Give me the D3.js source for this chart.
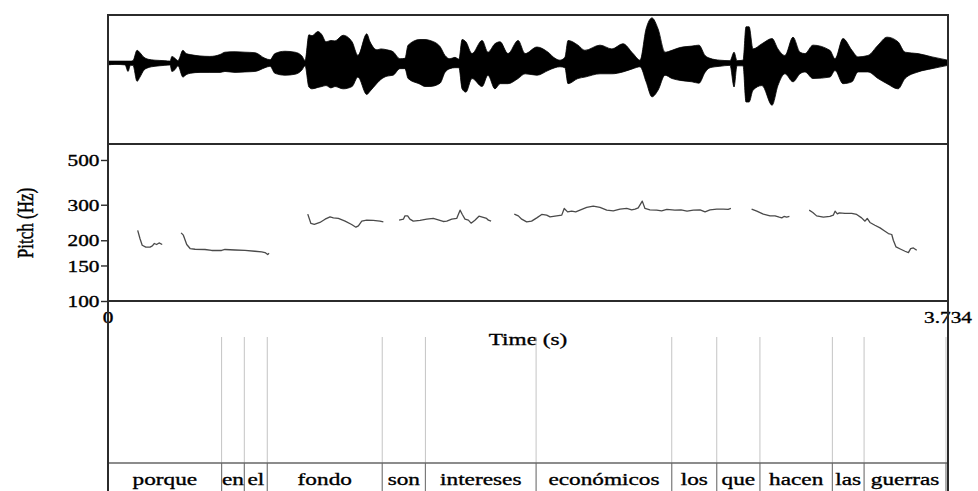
<!DOCTYPE html>
<html>
<head>
<meta charset="utf-8">
<script src="https://cdn.jsdelivr.net/npm/d3@7"></script>
<style>
  body { margin: 0; background: #fff; }
  svg { display: block; }
  text { font-family: "Liberation Serif", "Times New Roman", serif; fill: #000; stroke: #000; stroke-width: 0.35px; }
</style>
</head>
<body>
<svg id="chart" width="978" height="491"></svg>
<script>
// ---- Data -------------------------------------------------------------
const totalDuration = 3.734;            // seconds

// Word tier: interval boundaries (s) and the word in each interval
const wordBoundaries = [0, 0.505, 0.606, 0.708, 1.219, 1.411, 1.903, 2.506, 2.706, 2.898, 3.220, 3.361, 3.725];
const words = ["porque", "en", "el", "fondo", "son", "intereses", "económicos", "los", "que", "hacen", "las", "guerras"];

// Pitch axis
const pitchTicks = [100, 150, 200, 300, 500];
const pitchRange = [100, 600];          // Hz, log scale
const timeLabels = [0, 3.734];

// Waveform amplitude envelope: [time (s), upper, lower]
const waveEnvelope = [
  [0.000,0.04,-0.04],[0.031,0.04,-0.03],[0.076,0.04,-0.04],[0.089,0.04,-0.18],[0.100,0.04,-0.05],
  [0.111,0.05,-0.05],[0.129,0.27,-0.39],[0.142,0.22,-0.30],[0.160,0.12,-0.15],[0.178,0.08,-0.10],
  [0.209,0.06,-0.07],[0.253,0.05,-0.05],[0.276,0.04,-0.04],[0.284,0.14,-0.18],[0.298,0.10,-0.14],
  [0.311,0.05,-0.06],[0.333,0.27,-0.30],[0.347,0.20,-0.25],[0.365,0.18,-0.22],[0.409,0.15,-0.20],
  [0.453,0.14,-0.20],[0.498,0.18,-0.20],[0.520,0.23,-0.18],[0.565,0.24,-0.20],[0.609,0.23,-0.19],
  [0.653,0.22,-0.18],[0.698,0.10,-0.10],[0.720,0.07,-0.07],[0.742,0.20,-0.22],[0.787,0.25,-0.26],
  [0.831,0.23,-0.24],[0.862,0.15,-0.15],[0.876,0.05,-0.06],[0.893,0.60,-0.51],[0.907,0.58,-0.55],
  [0.933,0.67,-0.52],[0.951,0.60,-0.50],[0.969,0.45,-0.48],[0.991,0.48,-0.53],[1.009,0.47,-0.50],
  [1.045,0.59,-0.55],[1.085,0.45,-0.50],[1.111,0.16,-0.30],[1.150,0.62,-0.67],[1.165,0.45,-0.60],
  [1.196,0.28,-0.43],[1.213,0.30,-0.35],[1.240,0.28,-0.28],[1.267,0.24,-0.26],[1.298,0.09,-0.12],
  [1.320,0.10,-0.12],[1.334,0.38,-0.33],[1.387,0.50,-0.45],[1.409,0.50,-0.50],[1.431,0.48,-0.50],
  [1.476,0.35,-0.43],[1.498,0.16,-0.20],[1.520,0.09,-0.12],[1.542,0.12,-0.10],[1.560,0.08,-0.10],
  [1.574,0.50,-0.55],[1.591,0.45,-0.62],[1.618,0.20,-0.33],[1.663,0.48,-0.50],[1.689,0.23,-0.26],
  [1.720,0.41,-0.55],[1.743,0.45,-0.44],[1.778,0.20,-0.44],[1.823,0.48,-0.33],[1.854,0.20,-0.23],
  [1.907,0.34,-0.26],[1.956,0.23,-0.16],[1.987,0.10,-0.10],[2.009,0.06,-0.08],[2.031,0.12,-0.10],
  [2.045,0.48,-0.44],[2.089,0.38,-0.33],[2.120,0.27,-0.30],[2.187,0.38,-0.23],[2.240,0.30,-0.23],
  [2.289,0.41,-0.19],[2.334,0.20,-0.12],[2.365,0.06,-0.08],[2.392,0.73,-0.40],[2.418,0.96,-0.72],
  [2.445,0.73,-0.58],[2.476,0.23,-0.26],[2.507,0.27,-0.33],[2.543,0.33,-0.37],[2.596,0.36,-0.40],
  [2.627,0.38,-0.43],[2.654,0.16,-0.20],[2.676,0.10,-0.10],[2.720,0.06,-0.07],[2.765,0.05,-0.05],
  [2.783,0.23,-0.51],[2.796,0.05,-0.06],[2.823,0.06,-0.06],[2.836,0.77,-0.83],[2.850,0.77,-0.83],
  [2.867,0.30,-0.58],[2.907,0.41,-0.48],[2.952,0.52,-0.90],[2.978,0.30,-0.48],[3.009,0.16,-0.23],
  [3.045,0.55,-0.40],[3.076,0.23,-0.23],[3.098,0.20,-0.19],[3.134,0.38,-0.33],[3.209,0.27,-0.30],
  [3.232,0.09,-0.16],[3.267,0.52,-0.44],[3.307,0.27,-0.40],[3.334,0.13,-0.19],[3.378,0.16,-0.19],
  [3.423,0.38,-0.33],[3.463,0.55,-0.44],[3.512,0.45,-0.55],[3.543,0.23,-0.33],[3.601,0.20,-0.19],
  [3.663,0.13,-0.12],[3.734,0.06,-0.05]
];

// Pitch contour, voiced stretches: [time (s), F0 (Hz)]
const pitchSeg1 = [[0.132,224],[0.142,204],[0.152,189],[0.168,185],[0.187,185],[0.197,187.5],[0.206,192.7],[0.216,190.5],[0.227,194],[0.241,190.5]];
const pitchSeg2 = [[0.325,217.5],[0.335,212],[0.350,190.5],[0.365,182],[0.387,180.5],[0.431,180],[0.461,178],[0.505,178],[0.520,180],[0.565,179],[0.609,178],[0.653,176.4],[0.683,175],[0.698,173.8],[0.710,170],[0.716,172.4]];
const pitchSeg3 = [[0.888,269.4],[0.902,242.2],[0.917,239.5],[0.942,245],[0.965,254.4],[0.987,261.2],[1.002,258.3],[1.024,256.5],[1.054,248.7],[1.083,239.5],[1.102,232.2],[1.113,235.7],[1.128,248.7],[1.150,251.5],[1.179,250.7],[1.209,248.7],[1.224,246.7]];
const pitchSeg4 = [[1.294,251.5],[1.313,254.4],[1.320,264.2],[1.332,264.2],[1.342,254.4],[1.357,248.7],[1.387,250.7],[1.417,254.4],[1.446,256.5],[1.468,252.4],[1.490,247.8],[1.506,248.7],[1.528,254.4],[1.550,256.5],[1.565,282],[1.575,268.5],[1.587,254.4],[1.602,251.5],[1.614,243.1],[1.631,251.5],[1.649,263.3],[1.668,259.5],[1.683,256.5],[1.691,251.5],[1.703,248.7]];
const pitchSeg5 = [[1.806,269.4],[1.824,264.2],[1.839,254.4],[1.861,246.7],[1.883,248.7],[1.906,258.3],[1.928,268.5],[1.950,266.4],[1.965,261.2],[1.987,263.3],[2.017,266.4],[2.028,287.6],[2.043,276.6],[2.061,278.8],[2.079,276.6],[2.098,282],[2.128,290.9],[2.157,295.3],[2.187,290.9],[2.217,282],[2.246,279.8],[2.276,285.3],[2.306,287.6],[2.328,283],[2.343,285.3],[2.357,289.6],[2.375,312.6],[2.387,287.6],[2.409,283],[2.439,282],[2.461,279.8],[2.484,284.3],[2.520,282],[2.547,283],[2.574,278.8],[2.602,282],[2.632,283],[2.654,276.6],[2.676,283],[2.706,285.3],[2.735,285.3],[2.757,284.3],[2.769,287.6]];
const pitchSeg6 = [[2.861,285.3],[2.884,278.8],[2.913,269.4],[2.943,264.2],[2.965,264.2],[2.984,260.3],[2.995,258.3],[3.005,262.4],[3.017,260.3],[3.029,262.4]];
const pitchSeg7 = [[3.117,282],[3.133,274.7],[3.150,264.2],[3.180,260.3],[3.209,262.4],[3.224,266.4],[3.232,278.8],[3.242,270.4],[3.251,273.5],[3.276,271.6],[3.306,271.6],[3.328,268.5],[3.350,258.3],[3.365,248.7],[3.375,256.5],[3.387,245],[3.409,237.5],[3.432,230.3],[3.454,221.8],[3.469,216],[3.484,213.6],[3.491,200.1],[3.503,185.3],[3.524,180.5],[3.543,176.4],[3.558,173.8],[3.568,181.9],[3.580,183.2],[3.595,178.4]];
const pitchSegments = [pitchSeg1, pitchSeg2, pitchSeg3, pitchSeg4, pitchSeg5, pitchSeg6, pitchSeg7];

// ---- Layout -----------------------------------------------------------
const W = 978, H = 491;
const left = 108, right = 948;
const waveTop = 15, waveBottom = 144;
const pitchTop = 144, pitchBottom = 301;
const boundaryTop = 337, tierTop = 463;
const SX = 1.33;          // horizontal glyph stretch used for every label
const frameColor = "#2b2b2b";

const svg = d3.select("#chart");
svg.append("rect").attr("width", W).attr("height", H).attr("fill", "#fff");

// ---- Scales -----------------------------------------------------------
const x = d3.scaleLinear().domain([0, totalDuration]).range([left, right]);
const yPitch = d3.scaleLog().domain(pitchRange).range([pitchBottom, pitchTop]);
const yWave = d3.scaleLinear().domain([-1, 1]).range([110, 16]);

// ---- Waveform ---------------------------------------------------------
svg.append("line")
  .attr("x1", x(0)).attr("x2", x(totalDuration))
  .attr("y1", yWave(0)).attr("y2", yWave(0))
  .attr("stroke", "#000").attr("stroke-width", 1.2);

svg.append("path")
  .datum(waveEnvelope)
  .attr("fill", "#000")
  .attr("stroke", "#000")
  .attr("stroke-width", 0.8)
  .attr("d", d3.area()
    .curve(d3.curveMonotoneX)
    .x(d => x(d[0]))
    .y0(d => yWave(d[2]))
    .y1(d => yWave(d[1])));

// ---- Pitch contour ----------------------------------------------------
const pitchLine = d3.line().x(d => x(d[0])).y(d => yPitch(d[1]));
svg.append("g").selectAll("path")
  .data(pitchSegments)
  .join("path")
  .attr("fill", "none")
  .attr("stroke", "#4a4a4a")
  .attr("stroke-width", 1.3)
  .attr("stroke-linejoin", "round")
  .attr("d", pitchLine);

// ---- Pitch axis -------------------------------------------------------
const yAxis = svg.append("g")
  .attr("transform", `translate(${left},0)`)
  .call(d3.axisLeft(yPitch).tickValues(pitchTicks).tickFormat(d3.format("d"))
    .tickSize(7).tickSizeOuter(0));
yAxis.select(".domain").remove();
yAxis.selectAll(".tick line").attr("stroke", frameColor).attr("stroke-width", 1.4);
yAxis.selectAll(".tick text")
  .attr("font-family", "Liberation Serif, Times New Roman, serif")
  .attr("font-size", 16)
  .attr("fill", "#000")
  .attr("x", -8.5 / SX)
  .attr("dy", "0.35em")
  .attr("transform", `scale(${SX},1)`);

svg.append("text")
  .attr("transform", `translate(25,223) scale(${SX},1) rotate(-90)`)
  .attr("text-anchor", "middle")
  .attr("dy", "0.35em")
  .attr("font-size", 17)
  .text("Pitch (Hz)");

// ---- Time labels ------------------------------------------------------
svg.append("g").selectAll("text")
  .data(timeLabels)
  .join("text")
  .attr("transform", d => `translate(${x(d)},323) scale(${SX},1)`)
  .attr("text-anchor", "middle")
  .attr("font-size", 16)
  .text(d => d === 0 ? "0" : d3.format(".3f")(d));

svg.append("text")
  .attr("transform", `translate(${(left + right) / 2},345) scale(${SX},1)`)
  .attr("text-anchor", "middle")
  .attr("font-size", 17.5)
  .text("Time (s)");

// ---- Word tier --------------------------------------------------------
const innerBounds = wordBoundaries.slice(1);
svg.append("g").selectAll("line")
  .data(innerBounds)
  .join("line")
  .attr("x1", d => x(d)).attr("x2", d => x(d))
  .attr("y1", boundaryTop).attr("y2", tierTop)
  .attr("stroke", "#c4c4c4").attr("stroke-width", 1);

svg.append("g").selectAll("line")
  .data(innerBounds)
  .join("line")
  .attr("x1", d => x(d)).attr("x2", d => x(d))
  .attr("y1", tierTop).attr("y2", H)
  .attr("stroke", "#7a7a7a").attr("stroke-width", 1.2);

svg.append("g").selectAll("text")
  .data(words)
  .join("text")
  .attr("transform", (d, i) => `translate(${(x(wordBoundaries[i]) + x(wordBoundaries[i + 1])) / 2},485) scale(${SX},1)`)
  .attr("text-anchor", "middle")
  .attr("font-size", 17.5)
  .text(d => d);

// ---- Frame ------------------------------------------------------------
const hLines = [waveTop, waveBottom, pitchBottom];
svg.append("g").selectAll("line")
  .data(hLines)
  .join("line")
  .attr("x1", left).attr("x2", right)
  .attr("y1", d => d).attr("y2", d => d)
  .attr("stroke", frameColor).attr("stroke-width", 1.8);

svg.append("line")
  .attr("x1", left).attr("x2", right)
  .attr("y1", tierTop).attr("y2", tierTop)
  .attr("stroke", "#666").attr("stroke-width", 1.4);

svg.append("g").selectAll("line")
  .data([left, right])
  .join("line")
  .attr("x1", d => d).attr("x2", d => d)
  .attr("y1", waveTop - 0.9).attr("y2", H)
  .attr("stroke", frameColor).attr("stroke-width", 2);
</script>
</body>
</html>
